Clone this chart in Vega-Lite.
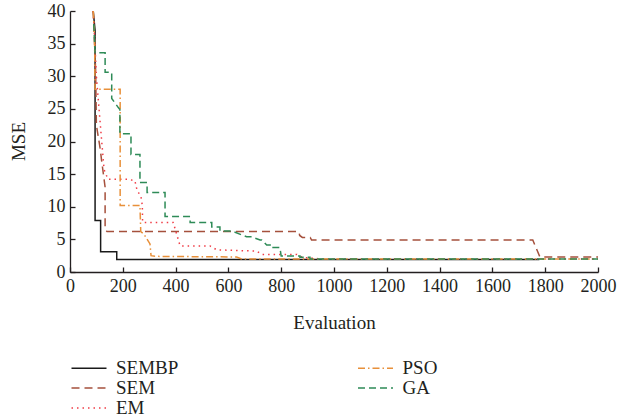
{
  "$schema": "https://vega.github.io/schema/vega-lite/v6.json",
  "width": 528,
  "height": 261,
  "autosize": {"type": "none"},
  "padding": {"left": 70, "top": 11, "right": 20, "bottom": 147},
  "background": "white",
  "config": {
    "view": {"stroke": null},
    "font": "Liberation Serif"
  },
  "data": {
    "values": [
      {"s": "SEMBP", "i": 0, "x": 88, "y": 40},
      {"s": "SEMBP", "i": 1, "x": 95, "y": 37},
      {"s": "SEMBP", "i": 2, "x": 95, "y": 7.9},
      {"s": "SEMBP", "i": 3, "x": 116, "y": 7.9},
      {"s": "SEMBP", "i": 4, "x": 116, "y": 3.1},
      {"s": "SEMBP", "i": 5, "x": 177, "y": 3.1},
      {"s": "SEMBP", "i": 6, "x": 177, "y": 1.9},
      {"s": "SEMBP", "i": 7, "x": 1778, "y": 1.9},

      {"s": "SEM", "i": 0, "x": 88, "y": 40},
      {"s": "SEM", "i": 1, "x": 97, "y": 31},
      {"s": "SEM", "i": 2, "x": 100, "y": 22.5},
      {"s": "SEM", "i": 3, "x": 114, "y": 19},
      {"s": "SEM", "i": 4, "x": 120, "y": 17},
      {"s": "SEM", "i": 5, "x": 133, "y": 13},
      {"s": "SEM", "i": 6, "x": 133, "y": 6.5},
      {"s": "SEM", "i": 7, "x": 140, "y": 6.2},
      {"s": "SEM", "i": 8, "x": 867, "y": 6.2},
      {"s": "SEM", "i": 9, "x": 870, "y": 5.6},
      {"s": "SEM", "i": 10, "x": 880, "y": 5.3},
      {"s": "SEM", "i": 11, "x": 910, "y": 5.3},
      {"s": "SEM", "i": 12, "x": 915, "y": 4.9},
      {"s": "SEM", "i": 13, "x": 1753, "y": 4.9},
      {"s": "SEM", "i": 14, "x": 1780, "y": 2.3},
      {"s": "SEM", "i": 15, "x": 2000, "y": 2.3},

      {"s": "EM", "i": 0, "x": 88, "y": 40},
      {"s": "EM", "i": 1, "x": 93, "y": 36},
      {"s": "EM", "i": 2, "x": 100, "y": 30},
      {"s": "EM", "i": 3, "x": 114, "y": 23},
      {"s": "EM", "i": 4, "x": 129, "y": 15.7},
      {"s": "EM", "i": 5, "x": 144, "y": 14.2},
      {"s": "EM", "i": 6, "x": 221, "y": 14.2},
      {"s": "EM", "i": 7, "x": 246, "y": 14.0},
      {"s": "EM", "i": 8, "x": 250, "y": 13.2},
      {"s": "EM", "i": 9, "x": 255, "y": 12.4},
      {"s": "EM", "i": 10, "x": 268, "y": 11.7},
      {"s": "EM", "i": 11, "x": 272, "y": 10.8},
      {"s": "EM", "i": 12, "x": 274, "y": 10.0},
      {"s": "EM", "i": 13, "x": 275, "y": 7.6},
      {"s": "EM", "i": 14, "x": 391, "y": 7.6},
      {"s": "EM", "i": 15, "x": 417, "y": 4.0},
      {"s": "EM", "i": 16, "x": 530, "y": 4.0},
      {"s": "EM", "i": 17, "x": 556, "y": 3.4},
      {"s": "EM", "i": 18, "x": 707, "y": 3.2},
      {"s": "EM", "i": 19, "x": 726, "y": 2.7},
      {"s": "EM", "i": 20, "x": 859, "y": 2.7},
      {"s": "EM", "i": 21, "x": 880, "y": 2.25},
      {"s": "EM", "i": 22, "x": 950, "y": 2.0},
      {"s": "EM", "i": 23, "x": 2000, "y": 2.0},

      {"s": "PSO", "i": 0, "x": 88, "y": 40},
      {"s": "PSO", "i": 1, "x": 93, "y": 36},
      {"s": "PSO", "i": 2, "x": 95, "y": 28},
      {"s": "PSO", "i": 3, "x": 190, "y": 28},
      {"s": "PSO", "i": 4, "x": 190, "y": 10.2},
      {"s": "PSO", "i": 5, "x": 265, "y": 10.2},
      {"s": "PSO", "i": 6, "x": 268, "y": 6.2},
      {"s": "PSO", "i": 7, "x": 280, "y": 5.8},
      {"s": "PSO", "i": 8, "x": 303, "y": 4.3},
      {"s": "PSO", "i": 9, "x": 307, "y": 2.5},
      {"s": "PSO", "i": 10, "x": 322, "y": 2.4},
      {"s": "PSO", "i": 11, "x": 631, "y": 2.3},
      {"s": "PSO", "i": 12, "x": 650, "y": 2.0},
      {"s": "PSO", "i": 13, "x": 2000, "y": 2.0},

      {"s": "GA", "i": 0, "x": 90, "y": 38},
      {"s": "GA", "i": 1, "x": 95, "y": 33.6},
      {"s": "GA", "i": 2, "x": 133, "y": 33.6},
      {"s": "GA", "i": 3, "x": 133, "y": 30.6},
      {"s": "GA", "i": 4, "x": 158, "y": 30.6},
      {"s": "GA", "i": 5, "x": 158, "y": 26.6},
      {"s": "GA", "i": 6, "x": 183, "y": 25.2},
      {"s": "GA", "i": 7, "x": 189, "y": 24.9},
      {"s": "GA", "i": 8, "x": 189, "y": 21.2},
      {"s": "GA", "i": 9, "x": 231, "y": 21.2},
      {"s": "GA", "i": 10, "x": 231, "y": 18},
      {"s": "GA", "i": 11, "x": 265, "y": 18},
      {"s": "GA", "i": 12, "x": 265, "y": 13.7},
      {"s": "GA", "i": 13, "x": 292, "y": 13.7},
      {"s": "GA", "i": 14, "x": 292, "y": 12.2},
      {"s": "GA", "i": 15, "x": 360, "y": 12.2},
      {"s": "GA", "i": 16, "x": 360, "y": 8.5},
      {"s": "GA", "i": 17, "x": 455, "y": 8.5},
      {"s": "GA", "i": 18, "x": 455, "y": 7.6},
      {"s": "GA", "i": 19, "x": 537, "y": 7.6},
      {"s": "GA", "i": 20, "x": 537, "y": 6.9},
      {"s": "GA", "i": 21, "x": 568, "y": 6.9},
      {"s": "GA", "i": 22, "x": 568, "y": 6.3},
      {"s": "GA", "i": 23, "x": 612, "y": 6.3},
      {"s": "GA", "i": 24, "x": 669, "y": 5.4},
      {"s": "GA", "i": 25, "x": 688, "y": 5.4},
      {"s": "GA", "i": 26, "x": 720, "y": 4.9},
      {"s": "GA", "i": 27, "x": 727, "y": 4.9},
      {"s": "GA", "i": 28, "x": 745, "y": 4.15},
      {"s": "GA", "i": 29, "x": 758, "y": 4.15},
      {"s": "GA", "i": 30, "x": 758, "y": 3.75},
      {"s": "GA", "i": 31, "x": 795, "y": 3.75},
      {"s": "GA", "i": 32, "x": 800, "y": 2.45},
      {"s": "GA", "i": 33, "x": 871, "y": 2.45},
      {"s": "GA", "i": 34, "x": 871, "y": 2.25},
      {"s": "GA", "i": 35, "x": 909, "y": 2.25},
      {"s": "GA", "i": 36, "x": 909, "y": 2.0},
      {"s": "GA", "i": 37, "x": 2000, "y": 2.0}
    ]
  },
  "mark": {"type": "line", "strokeWidth": 1.5, "clip": true},
  "encoding": {
    "x": {
      "field": "x", "type": "quantitative",
      "scale": {"domain": [0, 2000], "nice": false},
      "axis": {
        "title": "Evaluation",
        "values": [0, 200, 400, 600, 800, 1000, 1200, 1400, 1600, 1800, 2000],
        "format": "d",
        "grid": false,
        "domainColor": "#231F20", "domainWidth": 1.3,
        "tickColor": "#231F20", "tickWidth": 1.3, "tickSize": -5,
        "labelFont": "Liberation Serif", "labelFontSize": 18, "labelColor": "#231F20",
        "labelPadding": 10, "labelFlush": false,
        "titleFont": "Liberation Serif", "titleFontSize": 19, "titleFontWeight": "normal", "titleColor": "#231F20",
        "titleX": 264, "titleY": 50, "titleBaseline": "middle"
      }
    },
    "y": {
      "field": "y", "type": "quantitative",
      "scale": {"domain": [0, 40], "nice": false},
      "axis": {
        "title": "MSE",
        "values": [0, 5, 10, 15, 20, 25, 30, 35, 40],
        "format": "d",
        "grid": false,
        "domainColor": "#231F20", "domainWidth": 1.3,
        "tickColor": "#231F20", "tickWidth": 1.3, "tickSize": -5,
        "labelFont": "Liberation Serif", "labelFontSize": 18, "labelColor": "#231F20",
        "labelPadding": 10,
        "titleFont": "Liberation Serif", "titleFontSize": 19, "titleFontWeight": "normal", "titleColor": "#231F20",
        "titleX": -52, "titleY": 130, "titleBaseline": "middle", "titleAngle": -90
      }
    },
    "color": {
      "field": "s", "type": "nominal",
      "scale": {
        "domain": ["SEMBP", "SEM", "EM", "PSO", "GA"],
        "range": ["#1A1A1A", "#A5503C", "#F03C46", "#E8903A", "#2E8B57"]
      },
      "legend": {
        "title": null, "orient": "none", "legendX": 9.5, "legendY": 347.5,
        "columns": 2, "columnPadding": 176.5, "rowPadding": 0,
        "symbolType": "M-3.5,0H3.5", "symbolSize": 100, "symbolStrokeWidth": 1.5,
        "labelOffset": 17.5, "labelFont": "Liberation Serif", "labelFontSize": 19, "labelColor": "#231F20", "labelLimit": 300
      }
    },
    "strokeDash": {
      "field": "s", "type": "nominal",
      "scale": {
        "domain": ["SEMBP", "SEM", "EM", "PSO", "GA"],
        "range": [[1, 0], [8, 5], [1.5, 4], [7, 3, 1.5, 3], [7, 4]]
      },
      "legend": {
        "title": null, "orient": "none", "legendX": 9.5, "legendY": 347.5,
        "columns": 2, "columnPadding": 176.5, "rowPadding": 0,
        "symbolType": "M-3.5,0H3.5", "symbolSize": 100, "symbolStrokeWidth": 1.5,
        "labelOffset": 17.5, "labelFont": "Liberation Serif", "labelFontSize": 19, "labelColor": "#231F20", "labelLimit": 300
      }
    },
    "order": {"field": "i", "type": "quantitative"}
  }
}
